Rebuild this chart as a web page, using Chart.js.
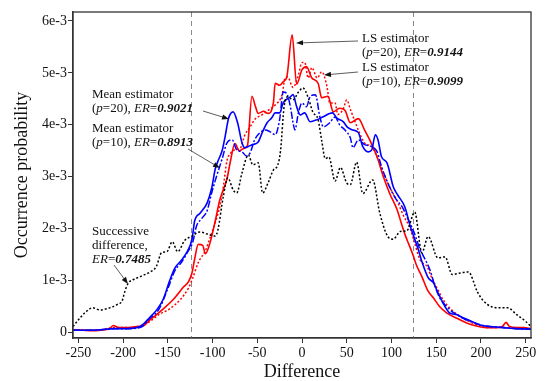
<!DOCTYPE html>
<html>
<head>
<meta charset="utf-8">
<script src="https://cdn.jsdelivr.net/npm/chart.js@4/dist/chart.umd.min.js"></script>
<style>
  body { margin: 0; background: #fff; }
  canvas { display: block; }
</style>
</head>
<body>
<canvas id="chart" width="546" height="381"></canvas>
<script>
// values; y in units of 1e-3
const xTicks = [-250, -200, -150, -100, -50, 0, 50, 100, 150, 200, 250];
const yTicks = [0, 1, 2, 3, 4, 5, 6];
const boundaries = [-124, 124];

// LS estimator (p=20)
const lsP20X = [-256,-245,-235,-225,-215,-211,-205,-195,-185,-178,-170,-164,-155,-145,-140,-133,-127,-123,-120,-116,-111,-108,-103,-97,-92,-88,-84,-80,-75,-70,-66,-61,-56,-52,-49,-43,-38,-32,-30,-25,-21,-17,-11,-6,0,5,11,18,22,29,35,42,48,54,63,70,76,84,91,98,106,113,116,119,124,128,134,141,147,154,162,173,184,195,206,218,224,228,232,240,248,256];
const lsP20Y = [0.06,0.05,0.04,0.05,0.08,0.14,0.1,0.1,0.12,0.13,0.25,0.33,0.46,0.62,0.72,0.87,0.98,1.15,1.42,1.7,1.68,1.52,1.72,2.15,2.55,2.75,2.95,3.3,3.64,3.5,3.54,3.6,4.55,4.35,4.22,4.26,4.22,4.42,4.8,4.76,4.83,4.92,5.73,4.78,5.06,5.12,4.9,4.8,4.52,4.55,4.25,4.32,4.28,4.04,4.12,3.9,3.7,3.38,3.0,2.68,2.38,2.0,1.85,1.72,1.5,1.3,1.08,0.8,0.67,0.5,0.38,0.28,0.19,0.13,0.1,0.1,0.12,0.2,0.12,0.1,0.1,0.08];

// LS estimator (p=10)
const lsP10X = [-256,-240,-225,-210,-195,-180,-170,-160,-148,-136,-127,-122,-116,-108,-103,-97,-92,-88,-84,-80,-75,-69,-64,-58,-53,-44,-36,-30,-22,-19,-16,-10,-4,0,3,7,11,17,22,28,31,37,40,46,50,54,63,70,78,84,91,98,106,113,121,126,132,140,145,151,158,165,177,188,199,210,225,240,256];
const lsP10Y = [0.05,0.05,0.06,0.1,0.1,0.14,0.22,0.35,0.46,0.64,0.86,1.06,1.35,1.58,1.82,2.12,2.42,2.8,3.3,3.45,3.52,3.55,3.8,3.96,4.1,4.2,4.3,4.38,4.6,4.9,4.92,4.72,4.96,5.2,5.2,4.9,5.1,4.9,5.02,4.73,4.42,4.42,4.2,4.3,4.48,4.3,3.9,3.65,3.58,3.38,3.08,2.8,2.55,2.27,2.0,1.72,1.4,1.27,1.06,0.86,0.63,0.48,0.31,0.21,0.13,0.1,0.1,0.08,0.07];

// Mean estimator (p=20)
const meanP20X = [-256,-240,-225,-210,-195,-181,-170,-162,-155,-148,-142,-136,-129,-123,-120,-114,-106,-101,-97,-94,-89,-86,-82,-77,-72,-67,-64,-58,-55,-49,-44,-39,-34,-30,-25,-21,-13,-10,-6,-2,3,9,17,23,34,39,46,51,57,63,68,74,78,82,85,89,95,102,107,115,121,124,130,134,141,147,152,160,165,173,180,191,199,210,225,240,256];
const meanP20Y = [0.05,0.05,0.06,0.08,0.08,0.12,0.3,0.45,0.65,1.0,1.25,1.37,1.54,1.8,2.15,2.3,2.5,2.78,3.15,3.3,3.52,3.77,4.13,4.25,4.04,3.65,3.56,3.6,3.62,3.67,3.87,4.04,4.13,4.23,4.23,4.42,4.54,4.58,4.35,4.19,4.23,4.06,4.1,4.15,4.23,4.13,4.06,3.95,3.9,3.85,3.58,3.48,3.52,3.81,3.71,3.38,3.27,2.81,2.65,2.42,2.05,1.9,1.6,1.37,1.06,0.96,0.77,0.5,0.38,0.35,0.29,0.21,0.15,0.12,0.1,0.08,0.07];

// Mean estimator (p=10)
const meanP10X = [-256,-240,-225,-210,-195,-181,-170,-160,-150,-142,-135,-128,-122,-118,-112,-106,-101,-95,-89,-84,-78,-73,-67,-62,-58,-53,-47,-41,-36,-30,-25,-21,-17,-13,-10,-8,-4,0,5,9,15,20,24,31,37,42,48,54,57,63,70,78,84,89,96,104,112,119,126,132,135,143,149,154,162,170,180,191,200,210,225,240,256];
const meanP10Y = [0.05,0.05,0.06,0.08,0.08,0.1,0.28,0.45,0.85,1.2,1.35,1.55,1.75,2.05,2.2,2.35,2.69,3.04,3.36,3.65,3.71,3.52,3.48,3.4,3.46,3.71,3.85,3.9,3.87,3.81,4.1,4.63,4.6,4.35,4.04,3.9,4.23,4.42,4.35,4.54,4.58,4.15,3.96,4.04,4.15,4.0,3.9,3.75,3.56,3.71,3.62,3.58,3.48,3.19,2.88,2.6,2.42,2.17,1.9,1.6,1.5,1.21,0.88,0.67,0.5,0.38,0.28,0.2,0.15,0.12,0.1,0.08,0.07];

// Successive difference
const succX = [-256,-248,-243,-234,-226,-215,-207,-201,-198,-194,-189,-181,-170,-163,-157,-151,-145,-139,-131,-123,-114,-106,-97,-94,-88,-83,-77,-73,-67,-60,-55,-49,-44,-38,-32,-27,-24,-20,-16,-10,-4,1,7,12,18,22,26,30,37,43,50,54,61,68,79,87,96,102,110,117,126,134,141,152,160,168,177,186,196,202,212,221,230,240,250,256];
const succY = [0.12,0.29,0.38,0.48,0.44,0.48,0.54,0.62,0.8,0.96,1.02,1.08,1.17,1.27,1.54,1.56,1.75,1.56,1.78,1.86,1.94,1.9,1.86,1.98,2.62,2.98,2.75,2.69,3.08,3.42,3.23,3.27,2.69,2.88,3.13,3.23,3.5,4.35,4.54,4.48,4.63,4.71,4.52,4.25,4.1,3.7,3.35,3.38,2.92,3.18,2.88,2.85,3.28,2.68,2.94,2.3,1.85,1.8,1.95,1.96,2.32,1.54,1.85,1.44,1.46,1.12,1.15,1.17,0.79,0.63,0.5,0.48,0.48,0.35,0.22,0.12];

const serif = "'Liberation Serif', 'DejaVu Serif', serif";

function toPoints(xs, ys) { return xs.map((x, i) => ({ x: x, y: ys[i] })); }

function series(xs, ys, color, dash, width) {
    return {
        data: toPoints(xs, ys),
        borderColor: color,
        borderWidth: width,
        borderDash: dash,
        pointRadius: 0,
        fill: false,
        cubicInterpolationMode: 'monotone'
    };
}

// annotation texts: [text, style] where style n = normal, i = italic, b = bold italic
const notes = [
    { x: 362, y: 42, lines: [[['LS estimator', 'n']], [['(', 'n'], ['p', 'i'], ['=20), ', 'n'], ['ER', 'i'], ['=', 'n'], ['0.9144', 'b']]],
      arrow: [358, 41, 296, 43] },
    { x: 362, y: 71, lines: [[['LS estimator', 'n']], [['(', 'n'], ['p', 'i'], ['=10), ', 'n'], ['ER', 'i'], ['=', 'n'], ['0.9099', 'b']]],
      arrow: [358, 72, 324, 75] },
    { x: 92, y: 98, lines: [[['Mean estimator', 'n']], [['(', 'n'], ['p', 'i'], ['=20), ', 'n'], ['ER', 'i'], ['=', 'n'], ['0.9021', 'b']]],
      arrow: [203, 111, 229, 119] },
    { x: 92, y: 132, lines: [[['Mean estimator', 'n']], [['(', 'n'], ['p', 'i'], ['=10), ', 'n'], ['ER', 'i'], ['=', 'n'], ['0.8913', 'b']]],
      arrow: [188, 149, 220, 168] },
    { x: 92, y: 235, lines: [[['Successive', 'n']], [['difference,', 'n']], [['ER', 'i'], ['=', 'n'], ['0.7485', 'b']]],
      arrow: [114, 265, 128, 284] }
];

function fontFor(style) {
    if (style === 'i') return 'italic 13px ' + serif;
    if (style === 'b') return 'italic bold 13px ' + serif;
    return '13px ' + serif;
}

function drawArrow(ctx, x1, y1, x2, y2) {
    const ang = Math.atan2(y2 - y1, x2 - x1);
    ctx.save();
    ctx.strokeStyle = '#333';
    ctx.fillStyle = '#111';
    ctx.lineWidth = 0.8;
    ctx.beginPath();
    ctx.moveTo(x1, y1);
    ctx.lineTo(x2 - 5 * Math.cos(ang), y2 - 5 * Math.sin(ang));
    ctx.stroke();
    ctx.beginPath();
    ctx.moveTo(x2, y2);
    ctx.lineTo(x2 - 7 * Math.cos(ang) + 2.6 * Math.sin(ang), y2 - 7 * Math.sin(ang) - 2.6 * Math.cos(ang));
    ctx.lineTo(x2 - 7 * Math.cos(ang) - 2.6 * Math.sin(ang), y2 - 7 * Math.sin(ang) + 2.6 * Math.cos(ang));
    ctx.closePath();
    ctx.fill();
    ctx.restore();
}

const decorPlugin = {
    id: 'decor',
    beforeDatasetsDraw(chart) {
        const { ctx, chartArea: a, scales } = chart;
        ctx.save();
        ctx.strokeStyle = '#8a8a8a';
        ctx.lineWidth = 1;
        ctx.setLineDash([5, 4]);
        boundaries.forEach(b => {
            const px = Math.round(scales.x.getPixelForValue(b)) + 0.5;
            ctx.beginPath();
            ctx.moveTo(px, a.top);
            ctx.lineTo(px, a.bottom);
            ctx.stroke();
        });
        ctx.restore();
    },
    afterDraw(chart) {
        const { ctx, chartArea: a } = chart;
        ctx.save();
        ctx.strokeStyle = '#333';
        ctx.lineWidth = 1.3;
        ctx.strokeRect(a.left, a.top, a.right - a.left, a.bottom - a.top);

        ctx.fillStyle = '#111';
        ctx.textBaseline = 'alphabetic';
        notes.forEach(n => {
            n.lines.forEach((segs, li) => {
                let cx = n.x;
                const cy = n.y + li * 14;
                segs.forEach(([t, s]) => {
                    ctx.font = fontFor(s);
                    ctx.fillText(t, cx, cy);
                    cx += ctx.measureText(t).width;
                });
            });
            const [x1, y1, x2, y2] = n.arrow;
            drawArrow(ctx, x1, y1, x2, y2);
        });
        ctx.restore();
    }
};

new Chart(document.getElementById('chart'), {
    type: 'line',
    data: {
        datasets: [
            series(succX, succY, '#000000', [2, 2], 1.5),
            series(meanP10X, meanP10Y, '#0000ff', [7, 2, 2, 2], 1.5),
            series(meanP20X, meanP20Y, '#0000ff', [], 1.6),
            series(lsP10X, lsP10Y, '#ff0000', [2, 2], 1.5),
            series(lsP20X, lsP20Y, '#ff0000', [], 1.6)
        ]
    },
    options: {
        responsive: false,
        animation: false,
        layout: { padding: { top: 12, right: 15, left: 0, bottom: 0 } },
        plugins: { legend: { display: false }, tooltip: { enabled: false } },
        scales: {
            x: {
                type: 'linear',
                min: -256,
                max: 256,
                afterBuildTicks: s => { s.ticks = xTicks.map(v => ({ value: v })); },
                afterFit: s => { s.height = 43; },
                grid: { drawOnChartArea: false, drawTicks: true, tickLength: 5, color: '#333' },
                border: { color: '#333', width: 1.3 },
                ticks: { font: { family: serif, size: 14 }, color: '#111', padding: 2, maxRotation: 0, autoSkip: false },
                title: { display: true, text: 'Difference', color: '#111', font: { family: serif, size: 18, lineHeight: 1 }, padding: { top: 0, bottom: 0 } }
            },
            y: {
                min: -0.1,
                max: 6.17,
                afterBuildTicks: s => { s.ticks = yTicks.map(v => ({ value: v })); },
                afterFit: s => { s.width = 73; },
                grid: { drawOnChartArea: false, drawTicks: true, tickLength: 5, color: '#333' },
                border: { color: '#333', width: 1.3 },
                ticks: {
                    font: { family: serif, size: 14 }, color: '#111', padding: 1, autoSkip: false,
                    callback: v => v === 0 ? '0' : v + 'e-3'
                },
                title: { display: true, text: 'Occurrence probability', color: '#111', font: { family: serif, size: 18, lineHeight: 1 }, padding: { top: 13, bottom: 0 } }
            }
        }
    },
    plugins: [decorPlugin]
});
</script>
</body>
</html>
